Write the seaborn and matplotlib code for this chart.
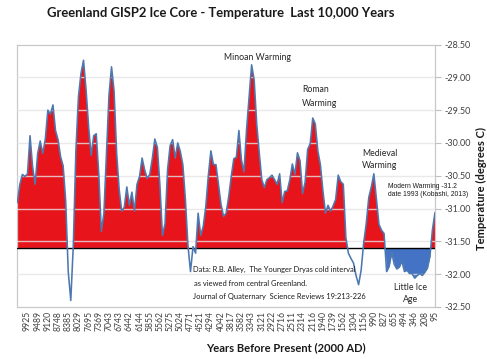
import numpy as np
import matplotlib
matplotlib.use("Agg")
import matplotlib.pyplot as plt
import seaborn as sns

# ---- data ----
year_labels = [9925, 9489, 9120, 8748, 8385, 8029, 7695, 7369, 7043, 6743,
               6442, 6144, 5855, 5562, 5275, 5024, 4771, 4521, 4294, 4042,
               3817, 3582, 3343, 3121, 2922, 2716, 2511, 2314, 2116, 1940,
               1739, 1562, 1304, 1156, 990, 827, 655, 494, 346, 208, 95]

temps = [
    -30.91, -30.63, -30.48, -30.51, -30.47, -29.89, -30.36, -30.63, -30.16, -29.97,
    -30.16, -29.94, -29.50, -29.56, -29.42, -29.81, -29.95, -30.21, -30.35, -30.88,
    -31.96, -32.40, -31.55, -30.12, -29.30, -28.94, -28.74, -29.19, -29.75, -30.19,
    -29.89, -29.86, -30.48, -31.35, -31.07, -30.15, -29.27, -28.84, -29.21, -30.15,
    -30.71, -31.04, -30.98, -30.67, -30.95, -30.75, -31.04, -30.63, -30.51, -30.23,
    -30.41, -30.54, -30.48, -30.24, -29.94, -30.07, -30.65, -31.41, -31.23, -30.41,
    -30.04, -29.95, -30.23, -30.00, -30.13, -30.33, -30.86, -31.56, -31.96, -31.58,
    -31.68, -31.07, -31.41, -31.27, -30.97, -30.50, -30.12, -30.33, -30.33, -30.63,
    -30.94, -31.12, -31.07, -30.82, -30.51, -30.24, -30.22, -29.81, -30.26, -30.44,
    -29.80, -29.31, -28.81, -29.04, -29.71, -30.15, -30.56, -30.68, -30.56, -30.53,
    -30.49, -30.56, -30.63, -30.47, -30.91, -30.74, -30.73, -30.56, -30.32, -30.48,
    -30.15, -30.27, -30.77, -30.60, -30.10, -30.01, -29.62, -29.71, -30.12, -30.33,
    -30.73, -31.07, -30.95, -31.04, -30.96, -30.86, -30.49, -30.59, -30.63, -31.44,
    -31.68, -31.76, -31.83, -32.02, -32.16, -31.94, -31.52, -31.23, -30.83, -30.67,
    -30.47, -30.86, -31.24, -31.33, -31.38, -31.96, -31.88, -31.67, -31.85, -31.92,
    -31.89, -31.80, -31.96, -31.94, -31.99, -31.99, -32.06, -32.02, -31.99, -32.02,
    -31.97, -31.91, -31.73, -31.32, -31.06]

baseline = -31.6
samples_per_label = 4
little_ice_age_start = 144

y_ticks = [-28.5, -29.0, -29.5, -30.0, -30.5, -31.0, -31.5, -32.0, -32.5]

# ---- styling ----
sns.set_theme(style="white")
plt.rcParams["font.family"] = ["Lato", "DejaVu Sans"]

W, H = 487, 359
fig = plt.figure(figsize=(W / 100, H / 100), dpi=100)
fig.patch.set_facecolor("white")

def fx(x):
    return x / W

def fy(y):
    return 1 - y / H

ax = fig.add_axes([fx(17.3), fy(307), fx(435) - fx(17.3), fy(44.5) - fy(307)])

t = np.array(temps)
idx = np.arange(len(t))

ax.fill_between(idx, t, baseline, where=t >= baseline, interpolate=True,
                color="#e8141c", linewidth=0, zorder=2)
ax.fill_between(idx, t, baseline, where=(t <= baseline) & (idx >= little_ice_age_start),
                interpolate=True, color="#4472c4", linewidth=0, zorder=2)

for v in y_ticks[1:-1]:
    ax.axhline(v, color="#e4e4e4", alpha=0.8, linewidth=1.0, zorder=3)
ax.axhline(baseline, color="black", linewidth=1.0, zorder=3.5)

sns.lineplot(x=idx, y=t, ax=ax, color="#4d79b0", linewidth=1.15, zorder=5)

ax.set_xlim(0, len(t) - 1)
ax.set_ylim(-32.5, -28.5)

ax.yaxis.tick_right()
ax.set_yticks(y_ticks)
ax.set_yticklabels([f"{v:.2f}" for v in y_ticks])
ax.tick_params(axis="y", right=True, length=4, width=0.8, color="#bfbfbf",
               labelsize=6.5, labelcolor="#404040", pad=3)

ax.set_xticks(idx[samples_per_label::samples_per_label])
ax.set_xticklabels([str(y) for y in year_labels], rotation=90)
ax.tick_params(axis="x", bottom=False, length=0, labelsize=6.2,
               labelcolor="#404040", pad=3)
ax.set_xlabel("")
ax.set_ylabel("")
ax.grid(False)

for s in ax.spines.values():
    s.set_color("#c8c8c8")
    s.set_linewidth(0.9)

# ---- texts ----
fig.text(fx(221), fy(13), "Greenland GISP2 Ice Core - Temperature  Last 10,000 Years",
         ha="center", va="center", fontsize=9.4, fontweight="bold", color="#1a1a1a")
fig.text(fx(286), fy(348), "Years Before Present (2000 AD)",
         ha="center", va="center", fontsize=8, fontweight="bold", color="#1a1a1a")
fig.text(fx(481), fy(188), "Temperature (degrees C)", rotation=90,
         ha="center", va="center", fontsize=8, fontweight="bold", color="#1a1a1a")

ann = dict(fontsize=6.3, color="#262626")
fig.text(fx(257), fy(57), "Minoan Warming", ha="center", va="center", **ann)
fig.text(fx(302), fy(90), "Roman", ha="left", va="center", **ann)
fig.text(fx(302), fy(103), "Warming", ha="left", va="center", **ann)
fig.text(fx(362), fy(153), "Medieval", ha="left", va="center", **ann)
fig.text(fx(362), fy(166), "Warming", ha="left", va="center", **ann)
fig.text(fx(411), fy(287), "Little Ice", ha="center", va="center", **ann)
fig.text(fx(411), fy(299), "Age", ha="center", va="center", **ann)

small = dict(fontsize=4.9, color="#1a1a1a", family=["Liberation Sans", "DejaVu Sans"])
fig.text(fx(388), fy(187), "Modern Warming -31.2", ha="left", va="center", **small)
fig.text(fx(388), fy(194.5), "date 1993 (Kobashi, 2013)", ha="left", va="center", **small)

data = dict(fontsize=5.4, color="#1a1a1a")
fig.text(fx(193), fy(269), "Data: R.B. Alley,  The Younger Dryas cold interval",
         ha="left", va="center", **data)
fig.text(fx(194), fy(283), "as viewed from central Greenland.", ha="left", va="center", **data)
fig.text(fx(193), fy(296), "Journal of Quaternary  Science Reviews 19:213-226",
         ha="left", va="center", **data)

fig.savefig("out.png", dpi=100, facecolor="white")
